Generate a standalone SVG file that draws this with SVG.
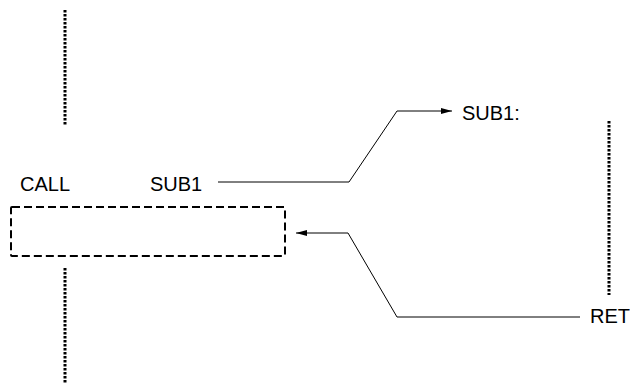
<svg xmlns="http://www.w3.org/2000/svg" width="630" height="385" viewBox="0 0 630 385">
<style>
.t{font-family:"Liberation Sans",Arial,sans-serif;font-size:20px;fill:#000}
.dot{stroke:#000;stroke-width:3;stroke-dasharray:2.5 1.5;fill:none}
.ln{stroke:#000;stroke-width:1;fill:none}
</style>
<defs>
<marker id="ah" markerWidth="12" markerHeight="8" refX="11" refY="4" orient="auto" markerUnits="userSpaceOnUse">
<path d="M0,1 L11,4 L0,7 Z" fill="#000"/>
</marker>
</defs>
<rect width="630" height="385" fill="#fff"/>
<g id="flow-lines">
<line class="dot" x1="65" y1="10" x2="65" y2="126"/>
<line class="dot" x1="65" y1="268" x2="65" y2="384"/>
<line class="dot" x1="609" y1="121" x2="609" y2="295"/>
</g>
<g id="call-box">
<rect x="11" y="207" width="274" height="49" fill="none" stroke="#000" stroke-width="2" stroke-dasharray="8 4" rx="1"/>
</g>
<g id="labels">
<text class="t" x="20" y="191">CALL</text>
<text class="t" x="150" y="191">SUB1</text>
<text class="t" x="462" y="120">SUB1:</text>
<text class="t" x="590" y="323">RET</text>
</g>
<g id="connectors">
<polyline class="ln" points="218,182 349,182 397,111 452,111" marker-end="url(#ah)"/>
<polyline class="ln" points="580,317 397,317 348,233 296,233" marker-end="url(#ah)"/>
</g>
</svg>
